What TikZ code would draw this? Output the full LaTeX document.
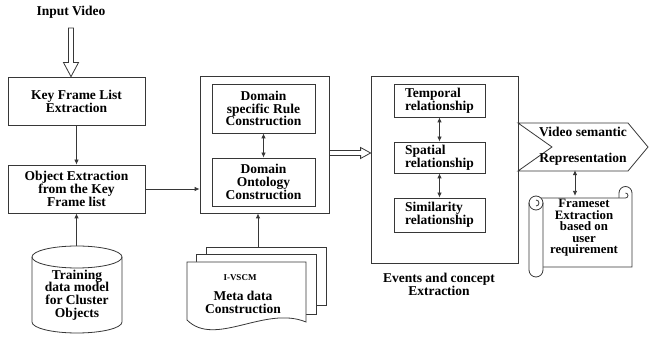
\documentclass[tikz,border=0pt]{standalone}
\usepackage{fontspec}
\setmainfont{Liberation Serif}
\usetikzlibrary{arrows.meta, positioning, calc}
\definecolor{linegray}{RGB}{55,55,55}

\begin{document}
\begin{tikzpicture}[x=1pt, y=-1pt,
    font=\fontsize{13.5}{12.8}\selectfont\bfseries,
    box/.style={draw=linegray, line width=0.8pt, align=center, inner sep=1pt},
    outline/.style={draw=linegray, line width=0.8pt},
    link/.style={draw=linegray, line width=0.8pt, -{Latex[length=5pt,width=4.5pt]}},
    both/.style={link, {Latex[length=5pt,width=4.5pt]}-{Latex[length=5pt,width=4.5pt]}}]
    \useasboundingbox (0,0) rectangle (649,339);

    % Left column
    \node (input) at (71,12) {Input Video};
    \node[box, minimum width=137pt, minimum height=48pt] (keyframe) at (76.5,101) {Key Frame List\\Extraction};
    \node[box, minimum width=137pt, minimum height=48pt] (object) at (76.5,189) {Object Extraction\\from the Key\\Frame list};
    \coordinate (vin) at (71,28);
    \coordinate (vout) at (vin |- keyframe.north);
    \draw[outline] ($(vin)+(-2.5,0)$) -- ($(vout)+(-2.5,-14)$) -- ($(vout)+(-7.5,-14)$) -- (vout)
        -- ($(vout)+(7.5,-14)$) -- ($(vout)+(2.5,-14)$) -- ($(vin)+(2.5,0)$) -- cycle;
    \draw[link] (keyframe) -- (object);

    % Cylinder
    \draw[outline] (32,257) -- (32,322) arc (180:360:45pt and 11pt) -- (122,257);
    \draw[outline] (77,257) ellipse (45pt and 11pt);
    \node[align=center] (training) at (77,295) {Training\\data model\\for Cluster\\Objects};
    \coordinate (ctop) at (76.5,246);
    \draw[link] (ctop) -- (object.south);

    % Ontology block
    \node[box, minimum width=129pt, minimum height=137pt] (ontobox) at (264.5,144.5) {};
    \node[box, minimum width=103pt, minimum height=49pt] (rule) at (263.5,108.5) {Domain\\specific Rule\\Construction};
    \node[box, minimum width=103pt, minimum height=48pt] (ontology) at (263.5,182) {Domain\\Ontology\\Construction};
    \draw[both] (rule) -- (ontology);
    \draw[link] (object.east) -- (object.east -| ontobox.west);

    % Document stack
    \draw[outline, fill=white] (206,247) rectangle (326,305);
    \draw[outline, fill=white] (196,254) rectangle (316,314);
    \draw[outline, fill=white] (187,262) -- (306,262) -- (306,322) .. controls (265,305) and (215,348) .. (187,320) -- cycle;
    \node[font=\fontsize{9}{10}\selectfont\bfseries] (vscm) at (240,278) {I-VSCM};
    \node[align=center] (metadata) at (243,302) {Meta data\\Construction};
    \coordinate (dtop) at (258,247);
    \draw[link] (dtop) -- (dtop |- ontobox.south);

    % Events block
    \node[box, minimum width=147pt, minimum height=187pt] (eventbox) at (444.5,169.5) {};
    \node[box, align=left, minimum width=91pt, minimum height=33pt] (temporal) at (439.5,100.5) {Temporal\\relationship};
    \node[box, align=left, minimum width=91pt, minimum height=31pt] (spatial) at (439.5,157.5) {Spatial\\relationship};
    \node[box, align=left, minimum width=91pt, minimum height=34pt] (similarity) at (439.5,215) {Similarity\\relationship};
    \draw[both] (temporal) -- (spatial);
    \draw[both] (spatial) -- (similarity);
    \node[align=center] (events) at (439,284) {Events and concept\\Extraction};
    \coordinate (hv) at (350,153);
    \coordinate (hin) at (hv -| ontobox.east);
    \coordinate (hout) at (hv -| eventbox.west);
    \draw[outline] ($(hin)+(0,-2.5)$) -- ($(hout)+(-10,-2.5)$) -- ($(hout)+(-10,-5.5)$) -- (hout)
        -- ($(hout)+(-10,5.5)$) -- ($(hout)+(-10,2.5)$) -- ($(hin)+(0,2.5)$);

    % Video semantic
    \draw[outline] (518,123) -- (628,123) -- (648,147) -- (628,171) -- (518,171) -- (552,147) -- cycle;
    \node[align=center, minimum height=48pt] (semantic) at (583,146) {Video semantic\\[13pt]Representation};

    % Scroll
    \draw[outline] (541,198) -- (625.5,198) arc (-90:90:2.5pt);
    \draw[outline] (619,198) -- (619,193) arc (180:0:6.5pt) -- (632,267) -- (543,267);
    \draw[outline, fill=white] (529,203) -- (529,270) arc (180:360:7pt) -- (543,203);
    \draw[outline] (536,203) circle (7pt);
    \draw[outline] (536,206) arc (-90:90:3pt);
    \node[align=center, font=\fontsize{12.8}{11.5}\selectfont\bfseries] (frameset) at (584,228) {Frameset\\Extraction\\based on\\user\\requirement};
    \draw[both] ([xshift=-8pt]semantic.south) -- ([xshift=-8pt]semantic.south |- frameset.north);
\end{tikzpicture}
\end{document}
